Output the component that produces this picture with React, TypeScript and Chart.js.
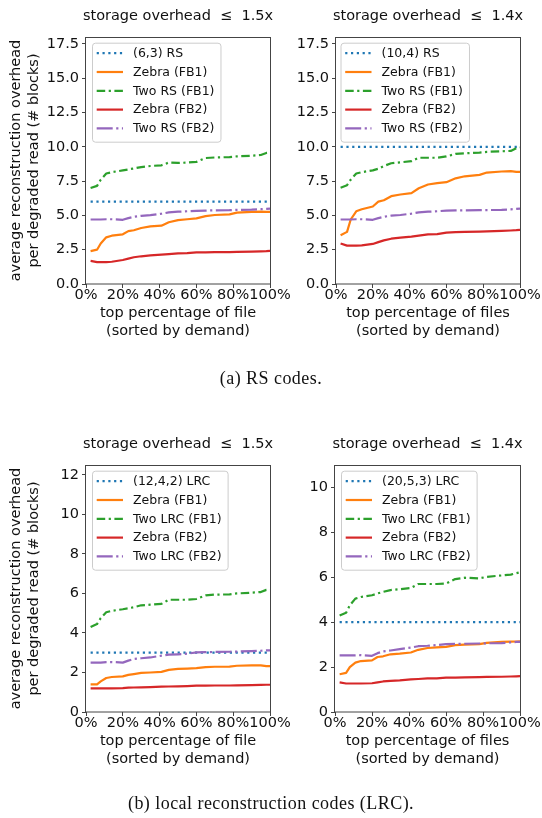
import React, { useEffect, useRef } from "react";
import { Chart, registerables } from "chart.js";
Chart.register(...registerables);

// ---------- data ----------
const XS = [2.5, 6, 8, 11, 14, 20, 23, 26, 30, 35, 41, 45, 50, 55, 60, 65, 70, 78, 82, 90, 95, 98, 100];
const BASE_X = [2.5, 100];
const X_TICKS = [0, 20, 40, 60, 80, 100];

// (a) RS codes, storage overhead <= 1.5x
const A1_LABELS = ["(6,3) RS", "Zebra (FB1)", "Two RS (FB1)", "Zebra (FB2)", "Two RS (FB2)"];
const A1_BASE = [6, 6];
const A1_ZEBRA_FB1 = [2.4, 2.5, 2.95, 3.4, 3.52, 3.62, 3.85, 3.92, 4.08, 4.2, 4.25, 4.5, 4.65, 4.72, 4.78, 4.95, 5.03, 5.07, 5.2, 5.25, 5.27, 5.25, 5.25];
const A1_TWO_FB1 = [7.0, 7.15, 7.6, 8.05, 8.15, 8.28, 8.35, 8.42, 8.52, 8.6, 8.65, 8.85, 8.82, 8.85, 8.9, 9.18, 9.22, 9.25, 9.3, 9.35, 9.4, 9.55, 9.58];
const A1_ZEBRA_FB2 = [1.68, 1.6, 1.6, 1.6, 1.62, 1.75, 1.85, 1.95, 2.02, 2.08, 2.14, 2.18, 2.23, 2.25, 2.3, 2.3, 2.32, 2.33, 2.34, 2.36, 2.38, 2.4, 2.42];
const A1_TWO_FB2 = [4.7, 4.7, 4.7, 4.72, 4.72, 4.68, 4.8, 4.9, 4.97, 5.02, 5.12, 5.22, 5.27, 5.3, 5.33, 5.35, 5.37, 5.38, 5.4, 5.42, 5.45, 5.48, 5.5];

// (a) RS codes, storage overhead <= 1.4x
const A2_LABELS = ["(10,4) RS", "Zebra (FB1)", "Two RS (FB1)", "Zebra (FB2)", "Two RS (FB2)"];
const A2_BASE = [10, 10];
const A2_ZEBRA_FB1 = [3.55, 3.8, 4.7, 5.3, 5.45, 5.65, 6.0, 6.1, 6.4, 6.52, 6.62, 6.98, 7.25, 7.35, 7.42, 7.7, 7.85, 7.95, 8.12, 8.2, 8.22, 8.17, 8.17];
const A2_TWO_FB1 = [7.02, 7.2, 7.6, 8.05, 8.15, 8.28, 8.4, 8.6, 8.8, 8.87, 8.95, 9.2, 9.2, 9.2, 9.3, 9.48, 9.52, 9.58, 9.63, 9.67, 9.7, 9.9, 9.95];
const A2_ZEBRA_FB2 = [2.95, 2.8, 2.8, 2.8, 2.82, 2.92, 3.05, 3.18, 3.3, 3.38, 3.45, 3.52, 3.62, 3.64, 3.75, 3.78, 3.8, 3.82, 3.84, 3.87, 3.9, 3.92, 3.95];
const A2_TWO_FB2 = [4.7, 4.7, 4.7, 4.72, 4.72, 4.68, 4.8, 4.9, 4.98, 5.03, 5.13, 5.22, 5.27, 5.3, 5.35, 5.36, 5.37, 5.38, 5.39, 5.4, 5.44, 5.48, 5.5];

// (b) LRC, storage overhead <= 1.5x
const B1_LABELS = ["(12,4,2) LRC", "Zebra (FB1)", "Two LRC (FB1)", "Zebra (FB2)", "Two LRC (FB2)"];
const B1_BASE = [3, 3];
const B1_ZEBRA_FB1 = [1.4, 1.4, 1.55, 1.72, 1.77, 1.8, 1.88, 1.92, 1.98, 2.0, 2.03, 2.13, 2.18, 2.2, 2.22, 2.27, 2.29, 2.3, 2.34, 2.36, 2.36, 2.32, 2.32];
const B1_TWO_FB1 = [4.3, 4.45, 4.75, 5.05, 5.12, 5.2, 5.25, 5.3, 5.4, 5.43, 5.47, 5.68, 5.68, 5.68, 5.72, 5.9, 5.94, 5.95, 6.0, 6.04, 6.07, 6.18, 6.2];
const B1_ZEBRA_FB2 = [1.2, 1.2, 1.2, 1.2, 1.2, 1.21, 1.23, 1.24, 1.25, 1.26, 1.28, 1.29, 1.3, 1.31, 1.33, 1.33, 1.34, 1.34, 1.35, 1.36, 1.37, 1.38, 1.38];
const B1_TWO_FB2 = [2.5, 2.5, 2.5, 2.52, 2.53, 2.5, 2.6, 2.68, 2.72, 2.76, 2.85, 2.9, 2.92, 2.95, 3.02, 3.03, 3.04, 3.05, 3.06, 3.08, 3.1, 3.12, 3.12];

// (b) LRC, storage overhead <= 1.4x
const B2_LABELS = ["(20,5,3) LRC", "Zebra (FB1)", "Two LRC (FB1)", "Zebra (FB2)", "Two LRC (FB2)"];
const B2_BASE = [4, 4];
const B2_ZEBRA_FB1 = [1.68, 1.74, 2.0, 2.2, 2.27, 2.3, 2.45, 2.48, 2.57, 2.6, 2.65, 2.77, 2.85, 2.88, 2.9, 2.98, 3.0, 3.02, 3.08, 3.12, 3.13, 3.14, 3.15];
const B2_TWO_FB1 = [4.3, 4.42, 4.75, 5.05, 5.12, 5.2, 5.28, 5.35, 5.43, 5.47, 5.52, 5.7, 5.7, 5.7, 5.72, 5.92, 5.98, 5.95, 6.02, 6.08, 6.12, 6.18, 6.22];
const B2_ZEBRA_FB2 = [1.32, 1.27, 1.27, 1.27, 1.27, 1.28, 1.32, 1.36, 1.39, 1.41, 1.45, 1.47, 1.5, 1.5, 1.53, 1.53, 1.54, 1.55, 1.56, 1.57, 1.58, 1.59, 1.6];
const B2_TWO_FB2 = [2.52, 2.52, 2.52, 2.52, 2.53, 2.5, 2.62, 2.7, 2.74, 2.8, 2.87, 2.93, 2.95, 2.98, 3.02, 3.03, 3.04, 3.05, 3.06, 3.07, 3.1, 3.12, 3.12];

const Y_TICKS_A = [0, 2.5, 5, 7.5, 10, 12.5, 15, 17.5];
const Y_TICKS_B1 = [0, 2, 4, 6, 8, 10, 12];
const Y_TICKS_B2 = [0, 2, 4, 6, 8, 10];

const TITLE_15 = "storage overhead  ≤  1.5x";
const TITLE_14 = "storage overhead  ≤  1.4x";
const Y_TITLE = ["average reconstruction overhead", "per degraded read (# blocks)"];
const X_TITLE_FILE = ["top percentage of file", "(sorted by demand)"];
const X_TITLE_FILES = ["top percentage of files", "(sorted by demand)"];
const CAPTION_A = "(a) RS codes.";
const CAPTION_B = "(b) local reconstruction codes (LRC).";

// ---------- styling ----------
const W = 542;
const H = 818;
const FONT = "'DejaVu Sans', sans-serif";
const TXT = "#111";
const STYLES = [
  { color: "#1f77b4", dash: [2.2, 3.6] },
  { color: "#ff7f0e", dash: [] as number[] },
  { color: "#2ca02c", dash: [8.5, 3.5, 2.2, 3.5] },
  { color: "#d62728", dash: [] as number[] },
  { color: "#9467bd", dash: [16, 3.5, 2.2, 3.5] },
];

type Panel = {
  area: { left: number; top: number; right: number; bottom: number };
  yMax: number;
  yTicks: number[];
  yDecimals: number;
  title: string;
  xTitle: string[];
  yTitle: boolean;
  labels: string[];
  base: number[];
  series: number[][];
  legendDx: number;
};

const PANELS: Panel[] = [
  {
    area: { left: 86, top: 37, right: 270, bottom: 284 },
    yMax: 18, yTicks: Y_TICKS_A, yDecimals: 1, title: TITLE_15, xTitle: X_TITLE_FILE, yTitle: true,
    labels: A1_LABELS, base: A1_BASE, series: [A1_ZEBRA_FB1, A1_TWO_FB1, A1_ZEBRA_FB2, A1_TWO_FB2], legendDx: 6,
  },
  {
    area: { left: 336, top: 37, right: 520, bottom: 284 },
    yMax: 18, yTicks: Y_TICKS_A, yDecimals: 1, title: TITLE_14, xTitle: X_TITLE_FILES, yTitle: false,
    labels: A2_LABELS, base: A2_BASE, series: [A2_ZEBRA_FB1, A2_TWO_FB1, A2_ZEBRA_FB2, A2_TWO_FB2], legendDx: 4.5,
  },
  {
    area: { left: 86, top: 465, right: 270, bottom: 712 },
    yMax: 12.5, yTicks: Y_TICKS_B1, yDecimals: 0, title: TITLE_15, xTitle: X_TITLE_FILE, yTitle: true,
    labels: B1_LABELS, base: B1_BASE, series: [B1_ZEBRA_FB1, B1_TWO_FB1, B1_ZEBRA_FB2, B1_TWO_FB2], legendDx: 6,
  },
  {
    area: { left: 335, top: 465, right: 520, bottom: 712 },
    yMax: 11, yTicks: Y_TICKS_B2, yDecimals: 0, title: TITLE_14, xTitle: X_TITLE_FILES, yTitle: false,
    labels: B2_LABELS, base: B2_BASE, series: [B2_ZEBRA_FB1, B2_TWO_FB1, B2_ZEBRA_FB2, B2_TWO_FB2], legendDx: 6,
  },
];

const X_AXIS_H = 60;
const Y_AXIS_W_RIGHT = 45;

const decorPlugin = {
  id: "decor",
  afterDatasetsDraw(chart: any, _args: any, opts: any) {
    const { ctx, chartArea: a } = chart;
    ctx.save();
    // frame
    ctx.strokeStyle = "#444";
    ctx.lineWidth = 1;
    ctx.setLineDash([]);
    ctx.strokeRect(Math.round(a.left) - 0.5, Math.round(a.top) + 0.5, Math.round(a.right - a.left) + 1, Math.round(a.bottom - a.top) - 0.5);
    // title
    ctx.fillStyle = TXT;
    ctx.font = `14.5px ${FONT}`;
    ctx.textAlign = "center";
    ctx.textBaseline = "middle";
    ctx.fillText(opts.title, (a.left + a.right) / 2, a.top - 20.5);
    // legend
    ctx.font = `12.5px ${FONT}`;
    const datasets = chart.data.datasets;
    let maxW = 0;
    datasets.forEach((d: any) => { maxW = Math.max(maxW, ctx.measureText(d.label).width); });
    const bx = a.left + opts.legendDx;
    const by = a.top + 5.7;
    const bw = 41 + maxW + 6;
    const bh = 99;
    ctx.beginPath();
    if (ctx.roundRect) ctx.roundRect(bx + 0.5, by + 0.5, bw, bh, 3);
    else ctx.rect(bx + 0.5, by + 0.5, bw, bh);
    ctx.fillStyle = "rgba(255,255,255,0.8)";
    ctx.fill();
    ctx.strokeStyle = "#cccccc";
    ctx.lineWidth = 1;
    ctx.stroke();
    datasets.forEach((d: any, i: number) => {
      const cy = by + 10.5 + i * 18.8;
      ctx.beginPath();
      ctx.strokeStyle = d.borderColor;
      ctx.lineWidth = d.borderWidth;
      ctx.setLineDash(d.borderDash || []);
      ctx.moveTo(bx + 4.7, cy);
      ctx.lineTo(bx + 31, cy);
      ctx.stroke();
      ctx.setLineDash([]);
      ctx.fillStyle = TXT;
      ctx.textAlign = "left";
      ctx.fillText(d.label, bx + 41, cy + 0.5);
    });
    ctx.restore();
  },
};

function buildConfig(p: Panel): any {
  const datasets = p.labels.map((label, i) => {
    const data = i === 0
      ? BASE_X.map((x, k) => ({ x, y: p.base[k] }))
      : XS.map((x, k) => ({ x, y: p.series[i - 1][k] }));
    return {
      label,
      data,
      borderColor: STYLES[i].color,
      backgroundColor: STYLES[i].color,
      borderDash: STYLES[i].dash,
      borderWidth: 2.2,
      borderCapStyle: "butt",
      borderJoinStyle: "round",
      pointRadius: 0,
      tension: 0,
      fill: false,
      order: p.labels.length - i,
    };
  });
  const yW = p.yTitle ? p.area.left : Y_AXIS_W_RIGHT;
  const tickFont = { family: FONT, size: 14.5, lineHeight: 1 };
  return {
    type: "line",
    data: { datasets },
    plugins: [decorPlugin],
    options: {
      animation: false,
      responsive: false,
      maintainAspectRatio: false,
      devicePixelRatio: 1,
      events: [],
      layout: {
        padding: {
          left: p.area.left - yW,
          right: W - p.area.right,
          top: p.area.top,
          bottom: H - p.area.bottom - X_AXIS_H,
        },
      },
      plugins: {
        legend: { display: false },
        tooltip: { enabled: false },
        title: { display: false },
        decor: { title: p.title, legendDx: p.legendDx },
      },
      scales: {
        x: {
          type: "linear",
          min: 0,
          max: 100,
          afterBuildTicks: (s: any) => { s.ticks = X_TICKS.map((v) => ({ value: v })); },
          afterFit: (s: any) => { s.height = X_AXIS_H; },
          grid: { drawOnChartArea: false, drawTicks: true, tickLength: 4, color: "#444", lineWidth: 1 },
          border: { display: false },
          ticks: {
            autoSkip: false, maxRotation: 0, minRotation: 0, padding: 0, color: TXT, font: tickFont,
            callback: (v: any) => `${v}%`,
          },
          title: {
            display: true, text: p.xTitle, color: TXT,
            font: { family: FONT, size: 14.5, lineHeight: 1.24 },
            padding: { top: 0, bottom: 4 },
          },
        },
        y: {
          type: "linear",
          min: 0,
          max: p.yMax,
          afterBuildTicks: (s: any) => { s.ticks = p.yTicks.map((v) => ({ value: v })); },
          afterFit: (s: any) => { s.width = yW; },
          grid: { drawOnChartArea: false, drawTicks: true, tickLength: 4, color: "#444", lineWidth: 1 },
          border: { display: false },
          ticks: {
            padding: 3, color: TXT, font: tickFont,
            callback: (v: any) => Number(v).toFixed(p.yDecimals),
          },
          title: {
            display: p.yTitle, text: Y_TITLE, color: TXT,
            font: { family: FONT, size: 14.5, lineHeight: 1.25 },
            padding: { top: 7.4, bottom: 0 },
          },
        },
      },
    },
  };
}

export default function App() {
  const refs = [useRef<HTMLCanvasElement>(null), useRef<HTMLCanvasElement>(null), useRef<HTMLCanvasElement>(null), useRef<HTMLCanvasElement>(null)];
  useEffect(() => {
    const charts = PANELS.map((p, i) => new Chart(refs[i].current as HTMLCanvasElement, buildConfig(p)));
    return () => charts.forEach((c) => c.destroy());
  }, []);
  const capStyle: React.CSSProperties = {
    position: "absolute", left: 0, width: W, textAlign: "center",
    fontFamily: "'Liberation Serif', serif", fontSize: 18, letterSpacing: 0.45,
    lineHeight: "20px", color: "#111", whiteSpace: "nowrap",
  };
  return (
    <div style={{ position: "absolute", left: 0, top: 0, width: W, height: H, background: "#fff", overflow: "hidden" }}>
      {refs.map((r, i) => (
        <canvas key={i} ref={r} width={W} height={H} style={{ position: "absolute", left: 0, top: 0, width: W, height: H }} />
      ))}
      <div style={{ ...capStyle, top: 368 }}>{CAPTION_A}</div>
      <div style={{ ...capStyle, top: 793 }}>{CAPTION_B}</div>
    </div>
  );
}
